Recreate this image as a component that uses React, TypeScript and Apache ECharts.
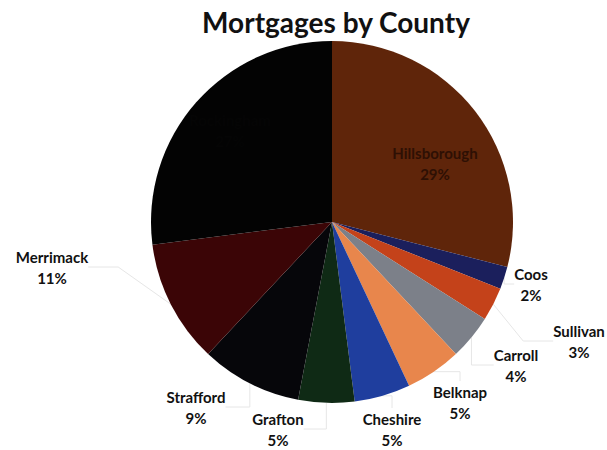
import React, { useEffect, useRef } from "react";
import * as echarts from "echarts";

const TITLE = "Mortgages by County";
const counties = ["Hillsborough", "Coos", "Sullivan", "Carroll", "Belknap", "Cheshire", "Grafton", "Strafford", "Merrimack", "Rockingham"];
const shares = [29, 2, 3, 4, 5, 5, 5, 9, 11, 27];
const colors = ["#5f250a", "#1b1f5c", "#c4421a", "#7c8089", "#e8864c", "#1f3e9e", "#0f2a15", "#06060a", "#3b0506", "#030303"];

const labelPos: Record<string, [number, number]> = {
  Hillsborough: [435, 163],
  Coos: [531, 284],
  Sullivan: [579, 341],
  Carroll: [516, 365],
  Belknap: [460, 402],
  Cheshire: [392, 429],
  Grafton: [278, 429],
  Strafford: [196, 407],
  Merrimack: [52, 267],
  Rockingham: [230, 130],
};

export default function App() {
  const ref = useRef<HTMLDivElement>(null);
  useEffect(() => {
    if (!ref.current) return;
    const chart = echarts.init(ref.current, undefined, { renderer: "svg" });
    const inside = (n: string) => n === "Hillsborough" || n === "Rockingham";
    chart.setOption({
      animation: false,
      backgroundColor: "#ffffff",
      title: {
        text: TITLE,
        left: 331,
        textAlign: "center",
        top: 3,
        textStyle: { fontFamily: "Lato", fontWeight: "bold", fontSize: 28, color: "#111" },
      },
      series: [
        {
          type: "pie",
          center: [332, 222],
          radius: 181,
          startAngle: 90,
          clockwise: true,
          avoidLabelOverlap: false,
          data: counties.map((name, i) => ({
            name,
            value: shares[i],
            itemStyle: { color: colors[i] },
            label: {
              color: name === "Hillsborough" ? "#2e1004" : name === "Rockingham" ? "#050505" : "#111",
            },
            labelLine: { show: !inside(name) },
          })),
          label: {
            show: true,
            formatter: "{b}\n{d}%",
            fontFamily: "Lato",
            fontWeight: "bold",
            fontSize: 15,
            lineHeight: 21,
            align: "center",
          },
          labelLine: { show: true, lineStyle: { color: "#e6e6e6", width: 1 } },
          labelLayout: (params: any) => {
            const p = labelPos[counties[params.dataIndex]];
            return { x: p[0], y: p[1], align: "center", verticalAlign: "middle" };
          },
        },
      ],
    });
    return () => chart.dispose();
  }, []);
  return <div ref={ref} style={{ position: "fixed", left: 0, top: 0, width: 607, height: 450 }} />;
}
